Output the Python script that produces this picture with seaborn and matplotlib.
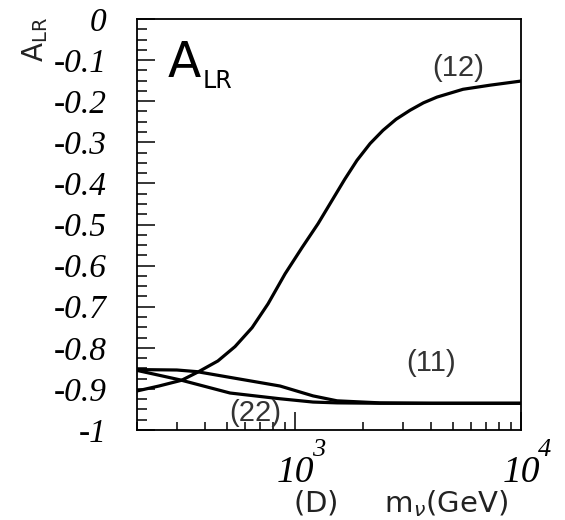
import numpy as np
import pandas as pd
import matplotlib
matplotlib.use("Agg")
import matplotlib.pyplot as plt
import matplotlib.ticker as mticker
from matplotlib.transforms import blended_transform_factory
import seaborn as sns

# ---- data ----
m12 = [200, 250, 315, 372, 456, 543, 646, 760, 904, 1075, 1265, 1460, 1660,
       1880, 2150, 2450, 2800, 3230, 3700, 4250, 5540, 7300, 10000]
a12 = [-0.905, -0.893, -0.879, -0.859, -0.832, -0.797, -0.751, -0.693, -0.620,
       -0.556, -0.498, -0.441, -0.390, -0.344, -0.303, -0.271, -0.244, -0.222,
       -0.204, -0.190, -0.171, -0.161, -0.151]

m11 = [200, 300, 368, 516, 859, 1202, 1535, 2380, 4000, 10000]
a11 = [-0.853, -0.854, -0.858, -0.872, -0.893, -0.917, -0.929, -0.934, -0.935,
       -0.935]

m22 = [200, 310, 516, 859, 1202, 1535, 2380, 4000, 10000]
a22 = [-0.855, -0.878, -0.910, -0.924, -0.932, -0.934, -0.935, -0.935, -0.935]

curve_labels = ["(12)", "(11)", "(22)"]
label_pos_m = [5260, 4000, 665]
label_pos_a = [-0.12, -0.837, -0.958]

ytick_vals = [0, -0.1, -0.2, -0.3, -0.4, -0.5, -0.6, -0.7, -0.8, -0.9, -1]
ytick_text = ["0", "-0.1", "-0.2", "-0.3", "-0.4", "-0.5", "-0.6", "-0.7",
              "-0.8", "-0.9", "-1"]
xtick_vals = [1e3, 1e4]
xtick_text = ["10", "10"]
xtick_exp = ["3", "4"]

# ---- figure ----
sns.set_theme(style="ticks")
plt.rcParams["font.family"] = ["DejaVu Sans"]
plt.rcParams["mathtext.fontset"] = "dejavusans"
plt.rcParams["text.color"] = "black"
plt.rcParams["axes.labelcolor"] = "black"
plt.rcParams["xtick.color"] = "black"
plt.rcParams["ytick.color"] = "black"

fig = plt.figure(figsize=(5.65, 5.2), dpi=100)
ax = fig.add_axes([137/565, 1-430/520, (521-137)/565, (430-19)/520])

for m, a in [(m12, a12), (m11, a11), (m22, a22)]:
    df = pd.DataFrame({"m": m, "a": a})
    sns.lineplot(data=df, x="m", y="a", ax=ax, color="black", lw=2.3,
                 estimator=None)

ax.set_xscale("log")
ax.set_xlim(200, 1e4)
ax.set_ylim(-1, 0)

for s in ax.spines.values():
    s.set_visible(True)
    s.set_linewidth(1.3)
    s.set_color("black")

serif_it = dict(family="Liberation Serif", style="italic")

ax.yaxis.set_major_locator(mticker.FixedLocator(ytick_vals))
ax.set_yticklabels(ytick_text, fontdict=dict(size=24, **serif_it))
ax.yaxis.set_minor_locator(mticker.AutoMinorLocator(4))

ax.xaxis.set_major_locator(mticker.FixedLocator(xtick_vals))
ax.set_xticklabels(xtick_text, fontdict=dict(size=27, **serif_it))
ax.xaxis.set_minor_locator(mticker.LogLocator(base=10, subs=np.arange(2, 10)))
ax.xaxis.set_minor_formatter(mticker.NullFormatter())

ax.tick_params(axis="both", which="both", direction="in", top=False,
               right=False, color="black", width=1.1)
ax.tick_params(axis="y", which="major", length=13, pad=22)
ax.tick_params(axis="y", which="minor", length=7)
ax.tick_params(axis="x", which="major", length=13, pad=18)
ax.tick_params(axis="x", which="minor", length=6)

trans = blended_transform_factory(ax.transData, ax.transAxes)
for xv, e in zip(xtick_vals, xtick_exp):
    ax.annotate(e, xy=(xv, 0), xycoords=trans, xytext=(12, -19),
                textcoords="offset points", ha="left", va="baseline",
                fontsize=19, **serif_it, annotation_clip=False)

# curve labels
for lab, mx, ay in zip(curve_labels, label_pos_m, label_pos_a):
    ax.text(mx, ay, lab, ha="center", va="center", fontsize=21,
            family="Liberation Sans", color="#333333")

# big A_LR inside
ax.text(0.081, 0.859, "A", transform=ax.transAxes, fontsize=35,
        ha="left", va="baseline", color="black")
ax.annotate("LR", xy=(0.081, 0.859), xycoords="axes fraction",
            xytext=(25, -8), textcoords="offset points", fontsize=17,
            ha="left", va="baseline", color="black")

# y label
ax.set_ylabel(r"A$_{\mathregular{LR}}$", fontsize=20, va="center",
              color="#222222")
ax.yaxis.set_label_coords(-0.266, 0.949)

# x label
ax.set_xlabel(r"(D)     m$_{\nu}$(GeV)", fontsize=21, va="center",
              color="#222222")
ax.xaxis.set_label_coords(0.685, -0.178)

fig.savefig("out.png", dpi=100)
